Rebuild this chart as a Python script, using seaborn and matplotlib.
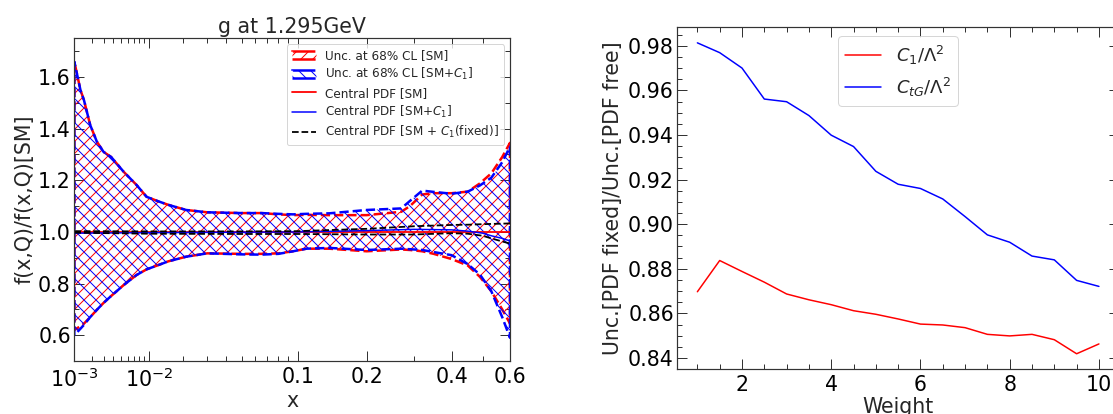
import numpy as np
import pandas as pd
import matplotlib
matplotlib.use("Agg")
import matplotlib.pyplot as plt
import seaborn as sns
from matplotlib.ticker import FixedLocator, FixedFormatter, MultipleLocator, NullFormatter
from matplotlib.lines import Line2D

# ---------------- left panel data ----------------
x_grid = [0.001, 0.0013, 0.0015, 0.0019, 0.0024, 0.003, 0.0038, 0.0054, 0.0075, 0.0095,
          0.012, 0.015, 0.021, 0.03, 0.05, 0.065, 0.08, 0.095, 0.11, 0.14,
          0.2, 0.27, 0.29, 0.32, 0.35, 0.4, 0.45, 0.49, 0.53, 0.57, 0.6]
sm_upper = [1.66, 1.55, 1.51, 1.414, 1.35, 1.31, 1.29, 1.233, 1.182, 1.136,
            1.12, 1.105, 1.085, 1.076, 1.073, 1.073, 1.068, 1.065, 1.066, 1.065,
            1.065, 1.078, 1.10, 1.145, 1.15, 1.15, 1.156, 1.188, 1.227, 1.29, 1.345]
sm_lower = [0.62, 0.635, 0.645, 0.67, 0.698, 0.725, 0.752, 0.794, 0.833, 0.855,
            0.87, 0.886, 0.904, 0.917, 0.915, 0.915, 0.917, 0.925, 0.935, 0.935,
            0.925, 0.932, 0.93, 0.925, 0.915, 0.895, 0.87, 0.826, 0.77, 0.70, 0.645]
c1_upper = [1.66, 1.55, 1.51, 1.414, 1.35, 1.31, 1.29, 1.233, 1.182, 1.136,
            1.12, 1.105, 1.085, 1.076, 1.073, 1.073, 1.07, 1.068, 1.07, 1.072,
            1.085, 1.091, 1.12, 1.16, 1.155, 1.148, 1.156, 1.18, 1.21, 1.27, 1.33]
c1_lower = [0.60, 0.625, 0.64, 0.67, 0.698, 0.725, 0.752, 0.794, 0.833, 0.855,
            0.87, 0.886, 0.904, 0.917, 0.913, 0.912, 0.915, 0.925, 0.935, 0.938,
            0.93, 0.935, 0.933, 0.93, 0.922, 0.91, 0.875, 0.835, 0.77, 0.67, 0.59]

central_x = [0.001, 0.01, 0.05, 0.1, 0.2, 0.3, 0.4, 0.45, 0.5, 0.53, 0.57, 0.6]
sm_central = [1.0, 1.0, 1.0, 1.0, 1.0, 1.0, 1.0, 1.0, 1.0, 1.0, 1.0, 1.0]
c1_central = [0.995, 0.997, 0.999, 1.0, 1.005, 1.01, 1.008, 1.003, 0.995, 0.985, 0.975, 0.965]
fixed_up = [1.003, 1.002, 1.002, 1.003, 1.012, 1.022, 1.027, 1.028, 1.03, 1.031, 1.032, 1.033]
fixed_dn = [0.997, 0.993, 0.992, 0.992, 0.99, 0.99, 0.995, 0.993, 0.985, 0.975, 0.963, 0.955]

x_tick_vals = [1e-3, 1e-2, 0.1, 0.2, 0.4, 0.6]
x_tick_labels = [r"$10^{-3}$", r"$10^{-2}$", "0.1", "0.2", "0.4", "0.6"]
x_minor_vals = [2e-3, 3e-3, 4e-3, 5e-3, 6e-3, 7e-3, 8e-3, 9e-3,
                2e-2, 3e-2, 4e-2, 5e-2, 6e-2, 7e-2, 8e-2, 9e-2, 0.3, 0.5]

# ---------------- right panel data ----------------
weights = [1.0, 1.5, 2.0, 2.5, 3.0, 3.5, 4.0, 4.5, 5.0, 5.5,
           6.0, 6.5, 7.0, 7.5, 8.0, 8.5, 9.0, 9.5, 10.0]
ratio_c1 = [0.8697, 0.8837, 0.8788, 0.8740, 0.8687, 0.8661, 0.8639, 0.8612, 0.8596, 0.8575,
            0.8552, 0.8548, 0.8536, 0.8506, 0.8499, 0.8506, 0.8482, 0.8419, 0.8463]
ratio_ctg = [0.9813, 0.9769, 0.9700, 0.9561, 0.9549, 0.9487, 0.9399, 0.9348, 0.9237, 0.9179,
             0.9160, 0.9113, 0.9034, 0.8952, 0.8919, 0.8857, 0.8840, 0.8748, 0.8721]

# ---------------- style ----------------
sns.set_theme(style="ticks")
FS = 20.5
plt.rcParams.update({
    "font.family": ["DejaVu Sans"],
    "xtick.direction": "in", "ytick.direction": "in",
    "xtick.top": True, "ytick.right": True,
    "xtick.major.size": 10, "ytick.major.size": 10,
    "xtick.minor.size": 5, "ytick.minor.size": 5,
    "xtick.major.width": 1.0, "ytick.major.width": 1.0,
    "xtick.minor.width": 1.0, "ytick.minor.width": 1.0,
    "axes.edgecolor": "#333333", "axes.linewidth": 1.2,
    "xtick.color": "#333333", "ytick.color": "#333333",
    "xtick.labelcolor": "black", "ytick.labelcolor": "black",
    "xtick.labelsize": FS, "ytick.labelsize": FS,
    "hatch.linewidth": 1.0,
})

DPI = 72
fig = plt.figure(figsize=(1113 / DPI, 414 / DPI), dpi=DPI)
axL = fig.add_axes([74.3 / 1113, (414 - 361) / 414, 435.7 / 1113, 322.7 / 414])
axR = fig.add_axes([677.3 / 1113, (414 - 369.3) / 414, 441.7 / 1113, 342 / 414])

# ---------- left ----------
fwd = lambda v: np.sign(v) * np.power(np.abs(v), 0.3)
inv = lambda v: np.sign(v) * np.power(np.abs(v), 1 / 0.3)
axL.set_xscale("function", functions=(fwd, inv))

band_sm = axL.fill_between(x_grid, sm_lower, sm_upper, facecolor="none", edgecolor="red",
                           hatch="//", linestyle="--", linewidth=2.5,
                           label="Unc. at 68% CL [SM]")
band_c1 = axL.fill_between(x_grid, c1_lower, c1_upper, facecolor="none", edgecolor="blue",
                           hatch="\\\\", linestyle="--", linewidth=2.5,
                           label=r"Unc. at 68% CL [SM+$C_1$]")

df_c = pd.DataFrame({"x": central_x, "sm": sm_central, "c1": c1_central,
                     "up": fixed_up, "dn": fixed_dn})
sns.lineplot(data=df_c, x="x", y="sm", ax=axL, color="red", linewidth=1.8, legend=False)
sns.lineplot(data=df_c, x="x", y="c1", ax=axL, color="blue", linewidth=1.5, legend=False)
sns.lineplot(data=df_c, x="x", y="up", ax=axL, color="black", linewidth=1.8,
             linestyle="--", legend=False)
sns.lineplot(data=df_c, x="x", y="dn", ax=axL, color="black", linewidth=1.8,
             linestyle="--", legend=False)

axL.set_xlim(1e-3, 0.6)
axL.set_ylim(0.5, 1.75)
axL.xaxis.set_major_locator(FixedLocator(x_tick_vals))
axL.xaxis.set_major_formatter(FixedFormatter(x_tick_labels))
axL.xaxis.set_minor_locator(FixedLocator(x_minor_vals))
axL.xaxis.set_minor_formatter(NullFormatter())
axL.yaxis.set_major_locator(MultipleLocator(0.2))
axL.yaxis.set_minor_locator(MultipleLocator(0.1))
axL.tick_params(axis="x", which="major", pad=6)
axL.set_title("g at 1.295GeV", fontsize=FS, pad=5)
axL.set_xlabel("x", fontsize=FS, labelpad=0)
axL.set_ylabel("f(x,Q)/f(x,Q)[SM]", fontsize=FS, labelpad=3)

handles = [band_sm, band_c1,
           Line2D([], [], color="red", lw=1.8),
           Line2D([], [], color="blue", lw=1.5),
           Line2D([], [], color="black", lw=1.8, ls="--")]
labels = ["Unc. at 68% CL [SM]", r"Unc. at 68% CL [SM+$C_1$]", "Central PDF [SM]",
          r"Central PDF [SM+$C_1$]", r"Central PDF [SM + $C_1$(fixed)]"]
axL.legend(handles, labels, loc="upper right", fontsize=12, frameon=True,
           framealpha=0.8, edgecolor="#cccccc", fancybox=True, labelspacing=0.35)

# ---------- right ----------
df_r = pd.DataFrame({"w": weights, "c1": ratio_c1, "ctg": ratio_ctg})
sns.lineplot(data=df_r, x="w", y="c1", ax=axR, color="red", linewidth=1.5,
             label=r"$C_1/\Lambda^2$")
sns.lineplot(data=df_r, x="w", y="ctg", ax=axR, color="blue", linewidth=1.5,
             label=r"$C_{tG}/\Lambda^2$")
axR.margins(x=0.05, y=0.05)
axR.xaxis.set_major_locator(MultipleLocator(2))
axR.xaxis.set_minor_locator(MultipleLocator(0.5))
axR.yaxis.set_major_locator(MultipleLocator(0.02))
axR.yaxis.set_minor_locator(MultipleLocator(0.005))
axR.yaxis.set_major_formatter(matplotlib.ticker.FormatStrFormatter("%.2f"))
axR.tick_params(axis="x", which="major", pad=6)
axR.set_xlabel("Weight", fontsize=FS, labelpad=2)
axR.set_ylabel("Unc.[PDF fixed]/Unc.[PDF free]", fontsize=FS, labelpad=5)
axR.legend(loc="upper center", fontsize=18, frameon=True, framealpha=0.8,
           edgecolor="#cccccc", fancybox=True)

fig.savefig("out.png", dpi=DPI)
